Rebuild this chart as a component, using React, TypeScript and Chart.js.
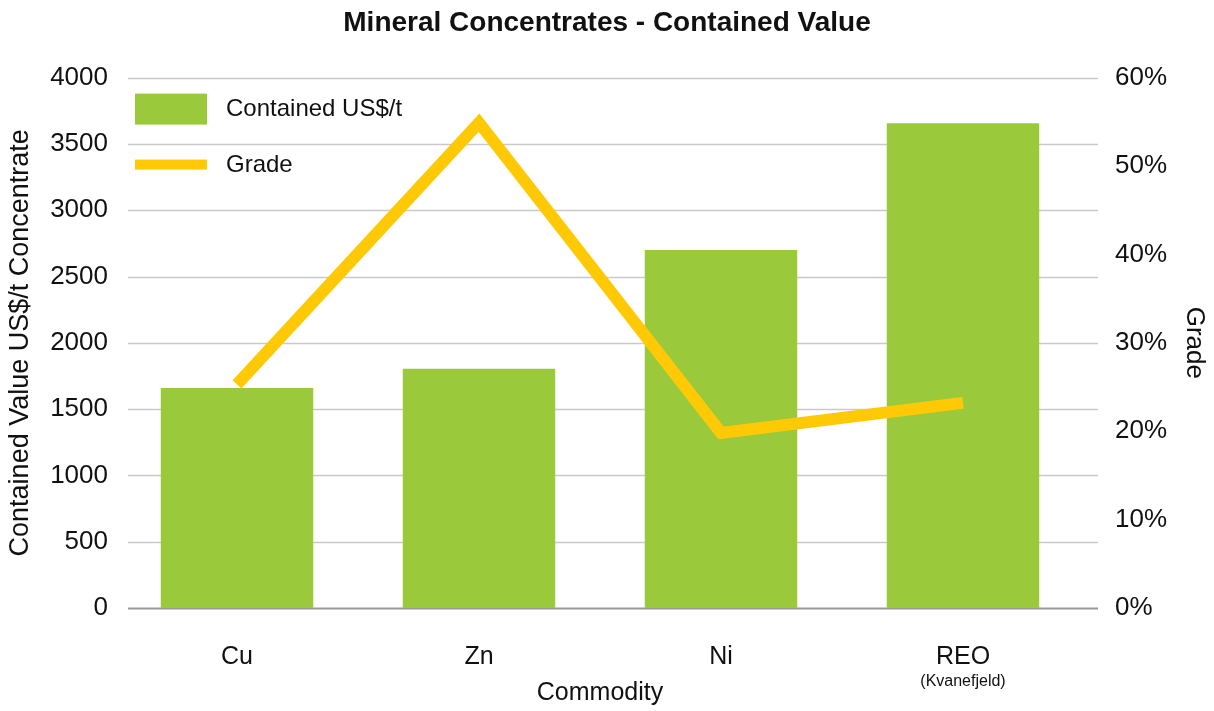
import React, { useEffect, useRef } from 'react';
import { Chart, registerables } from 'chart.js';

Chart.register(...registerables);

const categories = ['Cu', 'Zn', 'Ni', 'REO'];
const subLabels = ['', '', '', '(Kvanefjeld)'];
const containedValue = [1660, 1805, 2700, 3655];
const grade = [25.3, 54.9, 19.8, 23.2];
const seriesNames = ['Contained US$/t', 'Grade'];

const FONT = "'Liberation Sans', Arial, sans-serif";
const GREEN = '#9ACA3C';
const YELLOW = '#FFCA05';
const TEXT = '#111111';

const extGrid = {
  id: 'extGrid',
  beforeDatasetsDraw(chart: any) {
    const { ctx, chartArea, scales } = chart;
    const y = scales.y;
    const x0 = chartArea.left + 12;
    const x1 = chartArea.right + 14;
    ctx.save();
    y.ticks.forEach((t: any) => {
      const py = Math.round(y.getPixelForValue(t.value)) + 0.5;
      ctx.strokeStyle = t.value === 0 ? '#9a9a9a' : '#c9c9c9';
      ctx.lineWidth = t.value === 0 ? 2 : 1.5;
      ctx.beginPath();
      ctx.moveTo(x0, py);
      ctx.lineTo(x1, py);
      ctx.stroke();
    });
    ctx.restore();
  },
};

const extras = {
  id: 'extras',
  afterDraw(chart: any) {
    const { ctx, chartArea, scales } = chart;
    ctx.save();
    ctx.fillStyle = TEXT;
    ctx.font = `16px ${FONT}`;
    ctx.textAlign = 'center';
    ctx.textBaseline = 'middle';
    subLabels.forEach((s, i) => {
      if (s) ctx.fillText(s, scales.x.getPixelForValue(i), 682);
    });
    const lx = chartArea.left + 19;
    const ly = chartArea.top + 16;
    ctx.fillStyle = GREEN;
    ctx.fillRect(lx, ly, 72, 31);
    ctx.fillStyle = YELLOW;
    ctx.fillRect(lx, ly + 66, 72, 10);
    ctx.fillStyle = TEXT;
    ctx.font = `24px ${FONT}`;
    ctx.textAlign = 'left';
    ctx.fillText(seriesNames[0], lx + 91, ly + 16);
    ctx.fillText(seriesNames[1], lx + 91, ly + 72);
    ctx.restore();
  },
};

export default function App() {
  const ref = useRef<HTMLCanvasElement | null>(null);
  useEffect(() => {
    document.body.style.margin = '0';
    const canvas = ref.current!;
    const chart = new Chart(canvas, {
      type: 'bar',
      data: {
        labels: categories,
        datasets: [
          {
            type: 'line',
            label: seriesNames[1],
            data: grade,
            yAxisID: 'y1',
            borderColor: YELLOW,
            backgroundColor: YELLOW,
            borderWidth: 12,
            pointRadius: 0,
            borderJoinStyle: 'miter',
            borderCapStyle: 'butt',
            tension: 0,
            order: 0,
          } as any,
          {
            type: 'bar',
            label: seriesNames[0],
            data: containedValue,
            yAxisID: 'y',
            backgroundColor: GREEN,
            barPercentage: 0.63,
            categoryPercentage: 1,
            order: 1,
          },
        ],
      },
      options: {
        animation: false,
        responsive: false,
        layout: { padding: 0 },
        plugins: {
          legend: { display: false },
          tooltip: { enabled: false },
          title: {
            display: true,
            text: 'Mineral Concentrates - Contained Value',
            color: TEXT,
            font: { family: FONT, size: 28, weight: 'bold' },
            padding: { top: 6, bottom: 38 },
          },
        },
        scales: {
          x: {
            grid: { display: false, drawTicks: false },
            border: { display: false },
            ticks: { color: TEXT, font: { family: FONT, size: 25 }, padding: 34 },
            title: {
              display: true,
              text: 'Commodity',
              color: TEXT,
              font: { family: FONT, size: 25 },
              padding: { top: 0, bottom: 3 },
            },
            afterFit(scale: any) {
              scale.height = 103;
            },
          },
          y: {
            position: 'left',
            min: 0,
            max: 4000,
            grid: { display: false, drawTicks: false },
            border: { display: false },
            ticks: {
              stepSize: 500,
              color: TEXT,
              font: { family: FONT, size: 26 },
              padding: 8,
              callback: (v: any) => `${v}`,
            },
            title: {
              display: true,
              text: 'Contained Value US$/t Concentrate',
              color: TEXT,
              font: { family: FONT, size: 27 },
              padding: { top: 4, bottom: 0 },
            },
            afterFit(scale: any) {
              scale.width = 116;
            },
          },
          y1: {
            position: 'right',
            min: 0,
            max: 60,
            grid: { display: false, drawTicks: false },
            border: { display: false },
            ticks: {
              stepSize: 10,
              color: TEXT,
              font: { family: FONT, size: 26 },
              padding: 31,
              callback: (v: any) => `${v}%`,
            },
            title: {
              display: true,
              text: 'Grade',
              color: TEXT,
              font: { family: FONT, size: 26 },
              padding: { top: 4, bottom: 0 },
            },
            afterFit(scale: any) {
              scale.width = 130;
            },
          },
        },
      },
      plugins: [extGrid, extras],
    });
    return () => chart.destroy();
  }, []);
  return (
    <div style={{ width: 1214, height: 711, background: '#fff' }}>
      <canvas ref={ref} width={1214} height={711} />
    </div>
  );
}
